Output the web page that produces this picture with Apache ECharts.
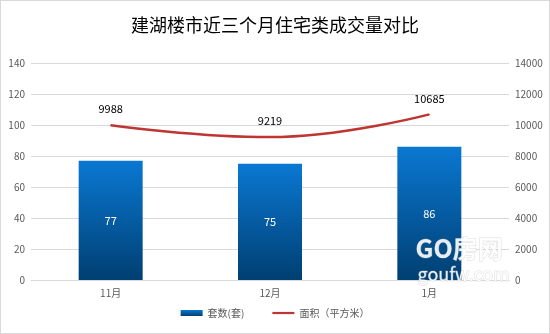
<!DOCTYPE html>
<html><head><meta charset="utf-8">
<script src="https://cdn.jsdelivr.net/npm/echarts@6/dist/echarts.min.js"></script>
<style>html,body{margin:0;padding:0;background:#fff}#c{width:548px;height:332px;border:1px solid #d9d9d9}</style>
</head><body><div id="c"></div>
<script>
const categories = ['11月','12月','1月'];
const units = [77, 75, 86];
const area = [9988, 9219, 10685];
const leftTicks = [0,20,40,60,80,100,120,140];
const rightTicks = [0,2000,4000,6000,8000,10000,12000,14000];

const chart = echarts.init(document.getElementById('c'));
const lbl = {color:'#595959', fontSize:10, fontFamily:'Noto Sans CJK SC'};
chart.setOption({
  animation:false,
  title:{text:'建湖楼市近三个月住宅类成交量对比', left:'center', top:10,
    textStyle:{fontFamily:'Noto Sans CJK SC', fontSize:18, fontWeight:'normal', color:'#000'}},
  legend:{bottom:10, left:'center', itemGap:28, itemWidth:22, itemHeight:6,
    textStyle:{fontFamily:'Noto Sans CJK SC', fontSize:10, color:'#595959'},
    data:[{name:'套数(套)', icon:'rect'}, {name:'面积（平方米）', icon:'path://M0,0h10v1h-10z'}]},
  grid:{left:30, right:40, top:62, bottom:53, containLabel:false},
  xAxis:{type:'category', data:categories,
    axisLine:{lineStyle:{color:'#d9d9d9'}}, axisTick:{show:false},
    axisLabel:Object.assign({margin:8}, lbl)},
  yAxis:[
    {type:'value', min:leftTicks[0], max:leftTicks[leftTicks.length-1], interval:20,
      axisLine:{show:false}, axisTick:{show:false},
      splitLine:{lineStyle:{color:'#d9d9d9'}}, axisLabel:Object.assign({margin:6}, lbl)},
    {type:'value', min:rightTicks[0], max:rightTicks[rightTicks.length-1], interval:2000,
      axisLine:{show:false}, axisTick:{show:false}, splitLine:{show:false},
      axisLabel:Object.assign({margin:6, formatter:v=>String(v)}, lbl)}
  ],
  series:[
    {name:'套数(套)', type:'bar', data:units, barWidth:64,
      itemStyle:{color:new echarts.graphic.LinearGradient(0,0,0,1,[{offset:0,color:'#0a78d2'},{offset:1,color:'#003f72'}])},
      label:{show:true, position:'inside', color:'#fff', fontSize:11, fontFamily:'Noto Sans CJK SC'}},
    {name:'面积（平方米）', type:'line', yAxisIndex:1, data:area, smooth:0.45,
      symbol:'circle', symbolSize:1, showSymbol:true,
      lineStyle:{color:'#be3532', width:2.5}, itemStyle:{color:'#be3532'},
      label:{show:true, position:'top', distance:10, color:'#000', fontSize:11, fontFamily:'Noto Sans CJK SC'}}
  ],
  graphic:[
    {type:'text', left:414, top:234, z:100, style:{text:'GO房网', fontSize:25, fontFamily:'Noto Sans CJK SC', fontWeight:'bold', fill:'rgba(255,255,255,0.9)', stroke:'rgba(180,180,180,0.45)', lineWidth:1}},
    {type:'text', left:416, top:264, z:100, style:{text:'goufw.com', fontSize:18, fontFamily:'Noto Sans CJK SC', fill:'rgba(255,255,255,0.9)', stroke:'rgba(180,180,180,0.45)', lineWidth:1}}
  ]
});
</script></body></html>
